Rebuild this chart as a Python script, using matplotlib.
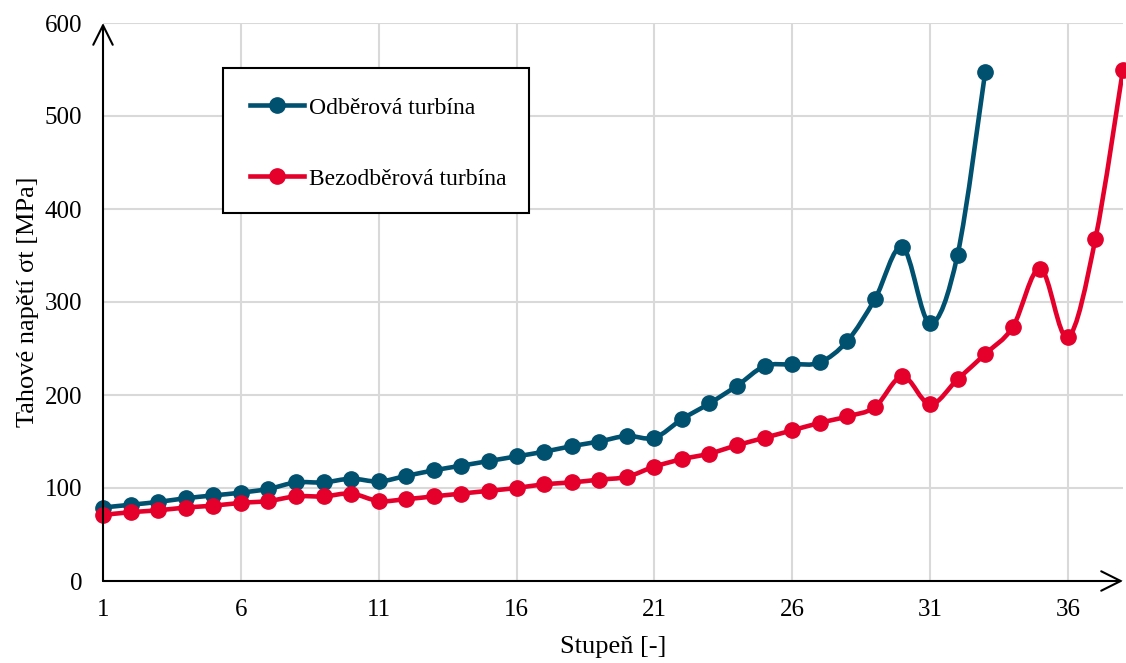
import numpy as np
import matplotlib.pyplot as plt
from matplotlib.path import Path
from matplotlib.patches import PathPatch, Rectangle
from matplotlib.lines import Line2D

plt.rcParams['font.family'] = ['Liberation Serif', 'DejaVu Serif']

# data
stages_odb = np.arange(1, 34)
napeti_odb = [79, 82, 85, 89, 92, 95, 99, 106, 106, 110, 107, 113, 119, 124, 129, 134,
              139, 145, 150, 156, 154, 174, 191, 210, 231, 233, 235, 258, 303, 359,
              277, 351, 547]
stages_bez = np.arange(1, 39)
napeti_bez = [71, 74, 76, 79, 81, 84, 86, 91, 91, 94, 86, 88, 91, 94, 97, 100, 104, 106,
              109, 112, 123, 131, 137, 146, 154, 162, 170, 177, 187, 220, 190, 217, 244,
              273, 336, 262, 368, 550]
label_odb = 'Odběrová turbína'
label_bez = 'Bezodběrová turbína'
xticks = [1, 6, 11, 16, 21, 26, 31, 36]
yticks = [0, 100, 200, 300, 400, 500, 600]

c_odb = '#00506F'
c_bez = '#E4002B'
W, H = 1126, 663


def smooth_path(x, y):
    # Catmull-Rom curve through the points, as cubic Bezier segments (like Excel smooth line)
    p = np.column_stack([x, y]).astype(float)
    ext = np.vstack([p[0], p, p[-1]])
    verts = [p[0]]
    codes = [Path.MOVETO]
    for i in range(len(p) - 1):
        p0, p1, p2, p3 = ext[i], ext[i + 1], ext[i + 2], ext[i + 3]
        verts += [p1 + (p2 - p0) / 6, p2 - (p3 - p1) / 6, p2]
        codes += [Path.CURVE4] * 3
    return Path(verts, codes)


fig = plt.figure(figsize=(W / 100, H / 100), dpi=100)
ax = fig.add_axes([103 / W, 1 - 581 / H, 1020 / W, 558 / H])

for x, y, c in [(stages_odb, napeti_odb, c_odb), (stages_bez, napeti_bez, c_bez)]:
    ax.add_patch(PathPatch(smooth_path(x, y), facecolor='none', edgecolor=c, lw=3.3,
                           capstyle='round', joinstyle='round', zorder=3))
    ax.plot(x, y, 'o', color=c, markersize=11, zorder=4, clip_on=False)

ax.set_xlim(1, 38)
ax.set_ylim(0, 600)
ax.set_xticks(xticks)
ax.set_yticks(yticks)
ax.tick_params(length=0, labelsize=18)
ax.tick_params(axis='x', pad=13)
ax.tick_params(axis='y', pad=15)
ax.grid(True, color='#d9d9d9', lw=1.5)
ax.set_axisbelow(True)
for s in ax.spines.values():
    s.set_visible(False)

# axes with open arrow heads
for tip in [(0, 1), (1, 0)]:
    ax.annotate('', xy=tip, xytext=(0, 0), xycoords='axes fraction',
                arrowprops=dict(arrowstyle='->', lw=1.5, color='black', mutation_scale=35,
                                shrinkA=0, shrinkB=0), zorder=5, annotation_clip=False)

ax.set_xlabel('Stupeň [-]', fontsize=19, labelpad=11)
ax.set_ylabel('Tahové napětí σt [MPa]', fontsize=19, labelpad=4)

# legend box
ax.add_patch(Rectangle((223 / W, 1 - 213 / H), 306 / W, 145 / H, transform=fig.transFigure,
                       facecolor='white', edgecolor='black', lw=1.5, zorder=6, clip_on=False))
handles = [Line2D([], [], color=c_odb, lw=3.3, marker='o', markersize=11),
           Line2D([], [], color=c_bez, lw=3.3, marker='o', markersize=11)]
leg = ax.legend(handles, [label_odb, label_bez], loc='upper left',
                bbox_to_anchor=(250 / W, 1 - 97 / H), bbox_transform=fig.transFigure,
                fontsize=17, frameon=False, borderpad=0, labelspacing=2.1,
                handlelength=2.3, handletextpad=0.2, borderaxespad=0)
leg.set_zorder(7)

fig.savefig('out.png', dpi=100)
